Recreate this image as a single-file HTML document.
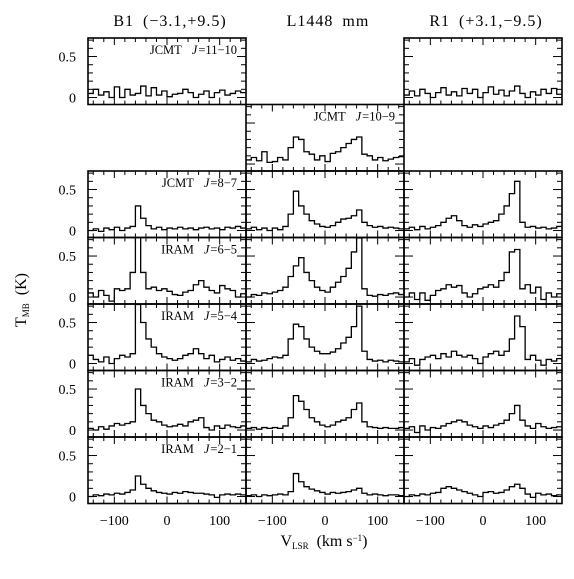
<!DOCTYPE html>
<html><head><meta charset="utf-8"><style>
body{margin:0;background:#fff}
svg text{font-family:"Liberation Serif",serif;fill:#000}
</style></head><body>
<svg id="c" width="574" height="574" viewBox="0 0 574 574" xmlns="http://www.w3.org/2000/svg"></svg>
<script>
const xTicks=[-100,0,100];
const yTicks=[0,0.5];
const telescopes=["JCMT","JCMT","JCMT","IRAM","IRAM","IRAM","IRAM"];
const transitions=["=11\u221210","=10\u22129","=8\u22127","=6\u22125","=5\u22124","=3\u22122","=2\u22121"];
const positions=["B1 (\u22123.1,+9.5)","L1448 mm","R1 (+3.1,\u22129.5)"];
// spectra: 30 channels of 10 km/s from -150 to 150, T_MB in K
const b1_11_10=[0.05,0.1,0.03,0.07,0.0,0.13,0.0,0.1,0.03,0.05,0.14,0.02,0.12,0.03,0.08,0.01,0.04,0.05,0.1,0.06,0.0,0.04,0.08,0.0,0.06,0.09,0.03,0.05,0.08,0.06];
const r1_11_10=[0.03,0.08,0.02,0.1,0.05,0.0,0.06,0.12,0.03,0.07,0.02,0.11,0.05,0.1,0.0,0.06,0.13,0.04,0.09,0.02,0.08,0.14,0.05,0.0,0.07,0.03,0.1,0.05,0.11,0.04];
const c_10_9=[0.05,0.08,0.04,0.15,0.02,0.03,0.08,0.05,0.2,0.33,0.3,0.15,0.12,0.05,0.1,0.03,0.13,0.15,0.2,0.25,0.3,0.33,0.12,0.1,0.05,0.08,0.04,0.06,0.08,0.09];
const b1_8_7=[0.0,0.02,-0.01,0.03,0.01,0.04,0.0,0.03,0.05,0.3,0.15,0.06,0.02,0.04,0.01,0.03,0.02,0.04,0.02,0.03,0.01,0.03,0.04,0.02,0.03,0.01,0.04,0.03,0.05,0.03];
const c_8_7=[0.02,0.04,0.01,0.03,0.0,0.03,0.01,0.05,0.2,0.48,0.3,0.2,0.12,0.08,0.05,0.04,0.06,0.1,0.14,0.15,0.18,0.25,0.1,0.06,0.04,0.05,0.03,0.04,0.03,0.02];
const r1_8_7=[0.02,0.04,0.01,0.05,0.02,0.04,0.06,0.1,0.15,0.18,0.12,0.06,0.04,0.07,0.05,0.08,0.1,0.12,0.2,0.3,0.45,0.6,0.1,0.04,0.05,0.03,0.04,0.02,0.03,0.05];
const b1_6_5=[0.05,0.0,0.08,0.02,-0.05,0.1,0.08,0.1,0.3,0.75,0.3,0.1,0.12,0.08,0.1,0.07,0.03,0.02,0.06,0.08,0.15,0.2,0.12,0.08,0.05,0.14,0.1,0.08,0.0,0.04];
const c_6_5=[0.0,0.03,0.02,0.05,0.04,0.06,0.08,0.12,0.25,0.38,0.48,0.3,0.2,0.12,0.08,0.06,0.12,0.18,0.25,0.35,0.55,0.72,0.1,0.02,0.01,0.03,0.02,0.04,0.05,0.03];
const r1_6_5=[0.0,0.05,-0.03,0.05,-0.04,0.02,0.08,0.1,0.15,0.12,0.14,0.05,0.0,0.04,0.1,0.12,0.15,0.12,0.2,0.3,0.55,0.58,0.1,0.15,0.05,0.12,-0.03,0.05,0.0,0.04];
const b1_5_4=[0.1,0.05,0.02,0.08,0.0,0.06,0.1,0.08,0.12,0.72,0.5,0.3,0.2,0.12,0.08,0.06,0.04,0.06,0.1,0.12,0.18,0.12,0.06,0.1,0.02,0.05,0.08,0.04,0.06,0.03];
const c_5_4=[0.02,0.05,0.03,0.04,0.06,0.08,0.07,0.1,0.3,0.48,0.45,0.3,0.2,0.15,0.12,0.12,0.14,0.18,0.25,0.32,0.45,0.7,0.15,0.05,0.03,0.04,0.02,0.04,0.03,0.02];
const r1_5_4=[0.02,0.06,-0.02,0.05,0.08,0.1,0.06,0.12,0.08,0.15,0.1,0.08,0.1,0.06,0.0,0.08,0.12,0.15,0.1,0.15,0.3,0.58,0.45,0.05,0.1,0.04,-0.02,0.05,0.03,0.06];
const b1_3_2=[0.02,0.0,0.04,0.01,0.05,0.08,0.06,0.08,0.1,0.5,0.3,0.2,0.12,0.1,0.06,0.04,0.05,0.07,0.05,0.1,0.12,0.15,0.03,0.0,0.05,0.02,0.06,0.04,0.03,0.05];
const c_3_2=[0.02,0.03,0.01,0.03,0.02,0.03,0.02,0.05,0.15,0.42,0.35,0.25,0.15,0.1,0.06,0.04,0.06,0.1,0.12,0.15,0.25,0.33,0.1,0.04,0.03,0.02,0.03,0.02,0.02,0.03];
const r1_3_2=[0.02,0.04,-0.03,0.05,0.0,0.03,0.02,0.05,0.08,0.1,0.12,0.1,0.06,0.04,0.02,0.05,0.03,0.06,0.08,0.12,0.2,0.3,0.12,0.05,0.02,0.08,0.04,0.02,0.03,0.04];
const b1_2_1=[0.0,0.02,0.01,0.03,0.02,0.04,0.03,0.05,0.08,0.25,0.15,0.1,0.07,0.05,0.04,0.03,0.05,0.04,0.06,0.05,0.04,0.04,0.03,0.02,-0.01,0.02,0.03,0.02,0.03,0.02];
const c_2_1=[0.01,0.02,0.0,0.02,0.01,0.02,0.03,0.02,0.06,0.28,0.18,0.12,0.09,0.07,0.05,0.03,0.05,0.04,0.05,0.06,0.08,0.1,0.04,0.02,0.03,0.02,0.01,0.02,0.02,0.01];
const r1_2_1=[0.0,0.02,0.01,0.03,0.02,0.04,0.05,0.1,0.12,0.1,0.08,0.06,0.04,0.02,0.0,0.05,0.06,0.04,0.05,0.08,0.12,0.15,0.1,0.03,-0.01,0.04,0.02,0.03,0.01,0.02];
const grid=[[b1_11_10,null,r1_11_10],[null,c_10_9,null],[b1_8_7,c_8_7,r1_8_7],[b1_6_5,c_6_5,r1_6_5],[b1_5_4,c_5_4,r1_5_4],[b1_3_2,c_3_2,r1_3_2],[b1_2_1,c_2_1,r1_2_1]];

const svg=document.getElementById('c');
const NS='http://www.w3.org/2000/svg';
function mk(t,a,p){const e=document.createElementNS(NS,t);for(const k in a)e.setAttribute(k,a[k]);(p||svg).appendChild(e);return e;}
const X0=88,PW=158,Y0=38,PH=66.5,VMIN=-150,VMAX=150,TMIN=-0.085,TMAX=0.726;
function xs(c,v){return X0+c*PW+(v-VMIN)/(VMAX-VMIN)*PW;}
function ys(r,t){return Y0+r*PH+(TMAX-t)/(TMAX-TMIN)*PH;}
const defs=mk('defs',{});
for(let r=0;r<7;r++)for(let c=0;c<3;c++){
  const d=grid[r][c]; if(!d)continue;
  const g=mk('g',{});
  
  
  const px=X0+c*PW,py=Y0+r*PH;
  const cp=mk('clipPath',{id:'cp'+r+c},defs);mk('rect',{x:px,y:py,width:PW,height:PH},cp);
  let pts=[];
  for(let i=0;i<d.length;i++){const v0=VMIN+i*10;pts.push(xs(c,v0)+','+ys(r,d[i]));pts.push(xs(c,v0+10)+','+ys(r,d[i]));}
  const pl=mk('polyline',{points:pts.join(' '),fill:'none',stroke:'#000','stroke-width':1.3,'clip-path':'url(#cp'+r+c+')'},g);
  
  
  for(let v=-140;v<150;v+=20){const L=(v%100===0)?7:4;const x=xs(c,v);
    mk('line',{x1:x,y1:py,x2:x,y2:py+L,stroke:'#000','stroke-width':1},g);
    mk('line',{x1:x,y1:py+PH,x2:x,y2:py+PH-L,stroke:'#000','stroke-width':1},g);}
  for(let t=0;t<=0.7;t+=0.1){const tt=Math.round(t*10)/10;const L=(tt===0||tt===0.5)?9:5;const y=ys(r,tt);
    mk('line',{x1:px,y1:y,x2:px+L,y2:y,stroke:'#000','stroke-width':1},g);
    mk('line',{x1:px+PW,y1:y,x2:px+PW-L,y2:y,stroke:'#000','stroke-width':1},g);}
  mk('rect',{x:px,y:py,width:PW,height:PH,fill:'none',stroke:'#000','stroke-width':1.6},g);
  if(c===0||(r===1&&c===1)){
    const lt=mk('text',{x:px+PW-9,y:py+16,'text-anchor':'end','font-size':12.5},g);
    lt.innerHTML=telescopes[r]+'<tspan dx="10" font-style="italic">J</tspan><tspan dx="1">'+transitions[r]+'</tspan>';
    
    
  }
  if(c===0){for(const t of yTicks){const tl=mk('text',{x:76,y:ys(r,t)+5,'text-anchor':'end','font-size':14,'font-family':'Liberation Sans, sans-serif'});tl.textContent=String(t);
    
    }}
  if(r===6){for(const v of xTicks){const tl=mk('text',{x:xs(c,v),y:525,'text-anchor':'middle','font-size':14,'font-family':'Liberation Sans, sans-serif'});tl.textContent=(v<0?'\u2212'+(-v):String(v));
    
    }}
}
for(let c=0;c<3;c++){const t=mk('text',{x:X0+c*PW+PW/2+3,y:26,'text-anchor':'middle','font-size':16,'letter-spacing':'1','word-spacing':'4'});t.textContent=positions[c];
  
  }
const xl=mk('text',{x:324,y:546,'text-anchor':'middle','font-size':16});
xl.innerHTML='V<tspan font-size="9" dy="3">LSR</tspan><tspan dx="8" dy="-3">(km s</tspan><tspan font-size="9" dy="-5">\u22121</tspan><tspan dy="5">)</tspan>';


const yl=mk('text',{x:0,y:0,'text-anchor':'middle','font-size':16,transform:'translate(26,300) rotate(-90)'});
yl.innerHTML='T<tspan font-size="9" dy="3">MB</tspan><tspan dx="8" dy="-3">(K)</tspan>';


</script>
</body></html>
